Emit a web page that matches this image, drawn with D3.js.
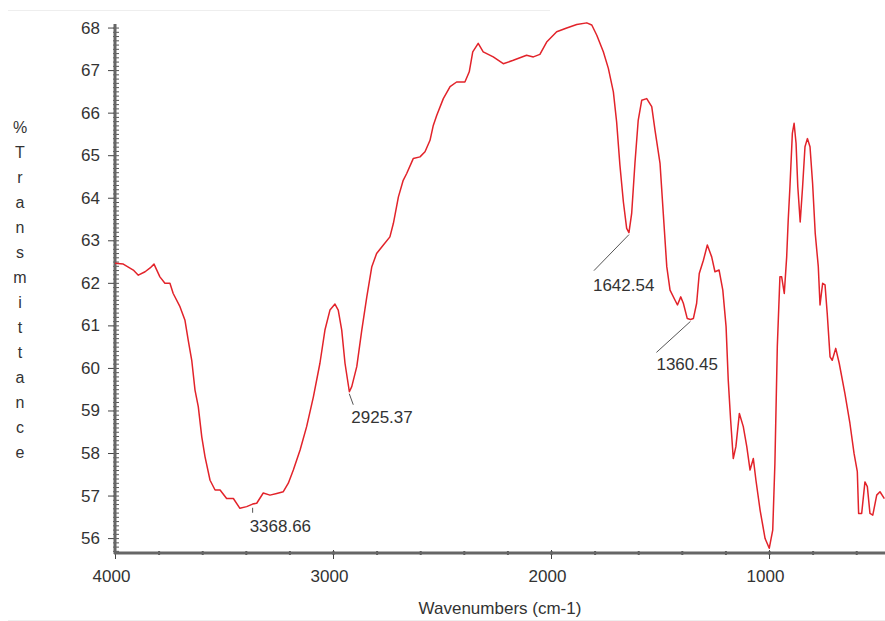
<!DOCTYPE html>
<html>
<head>
<meta charset="utf-8">
<style>
    body { margin: 0; background: #fff; }
    svg { display: block; font-family: "Liberation Sans", Arial, sans-serif; }
    .tick text { font-size: 17px; fill: #333; }
    .ylab { font-size: 16px; fill: #333; }
    .peak { font-size: 17px; fill: #333; }
</style>
</head>
<body>
<svg width="885" height="621"></svg>
<script src="https://d3js.org/d3.v7.min.js"></script>
<script>
    // spectrum: wavenumber (cm-1) and %T
    let wavenumbers = [4000, 3962, 3916, 3893, 3862, 3839, 3821, 3794, 3771, 3748, 3733, 3702, 3679, 3664, 3648, 3633, 3618, 3602, 3587, 3564, 3541, 3518, 3488, 3457, 3427, 3396, 3369, 3350, 3320, 3289, 3258, 3228, 3205, 3182, 3151, 3121, 3090, 3060, 3037, 3014, 2991, 2976, 2960, 2945, 2925, 2914, 2891, 2868, 2845, 2822, 2800, 2769, 2739, 2723, 2700, 2678, 2662, 2632, 2601, 2578, 2555, 2540, 2524, 2494, 2463, 2433, 2395, 2375, 2359, 2334, 2311, 2265, 2219, 2173, 2112, 2081, 2051, 2020, 1974, 1928, 1882, 1836, 1813, 1790, 1760, 1737, 1714, 1699, 1684, 1668, 1653, 1642.5, 1630, 1615, 1600, 1584, 1561, 1538, 1523, 1500, 1485, 1469, 1454, 1431, 1420, 1405, 1393, 1375, 1360, 1347, 1332, 1320, 1301, 1283, 1263, 1248, 1229, 1212, 1197, 1187, 1176, 1164, 1152, 1136, 1118, 1102, 1087, 1072, 1060, 1041, 1018, 999, 983, 973, 962, 950, 942, 930, 919, 912, 904, 893, 885, 876, 868, 857, 846, 835, 824, 812, 800, 788, 774, 766, 754, 743, 733, 720, 710, 694, 678, 652, 629, 610, 595, 589, 575, 560, 549, 537, 524, 506, 491, 471]
    let transmittance = [62.46, 62.44, 62.30, 62.18, 62.26, 62.35, 62.44, 62.14, 61.99, 61.99, 61.75, 61.44, 61.12, 60.65, 60.18, 59.48, 59.09, 58.38, 57.91, 57.36, 57.13, 57.13, 56.93, 56.93, 56.70, 56.74, 56.80, 56.82, 57.06, 57.01, 57.05, 57.09, 57.29, 57.60, 58.07, 58.62, 59.32, 60.11, 60.89, 61.36, 61.50, 61.36, 60.89, 60.11, 59.44, 59.56, 60.03, 60.89, 61.67, 62.38, 62.69, 62.89, 63.08, 63.40, 64.02, 64.41, 64.57, 64.92, 64.96, 65.08, 65.35, 65.70, 65.94, 66.33, 66.61, 66.72, 66.72, 66.96, 67.43, 67.63, 67.43, 67.31, 67.15, 67.23, 67.35, 67.31, 67.37, 67.66, 67.90, 67.99, 68.07, 68.11, 68.06, 67.82, 67.43, 67.04, 66.49, 65.78, 64.77, 63.90, 63.28, 63.18, 63.63, 64.81, 65.82, 66.29, 66.33, 66.14, 65.59, 64.81, 63.63, 62.38, 61.83, 61.59, 61.48, 61.67, 61.52, 61.16, 61.14, 61.16, 61.52, 62.22, 62.53, 62.89, 62.61, 62.26, 62.30, 61.83, 60.97, 59.71, 58.77, 57.87, 58.15, 58.93, 58.62, 58.15, 57.60, 57.87, 57.36, 56.66, 55.99, 55.76, 56.19, 57.76, 60.50, 62.14, 62.14, 61.75, 62.61, 63.47, 64.26, 65.51, 65.75, 65.28, 64.26, 63.43, 64.26, 65.20, 65.39, 65.20, 64.33, 63.16, 62.38, 61.48, 61.99, 61.95, 61.28, 60.26, 60.18, 60.46, 60.11, 59.40, 58.70, 57.99, 57.56, 56.58, 56.58, 57.32, 57.21, 56.58, 56.54, 57.01, 57.09, 56.93]

    let xTicks = [4000, 3000, 2000, 1000]
    let yTicks = [56, 57, 58, 59, 60, 61, 62, 63, 64, 65, 66, 67, 68]

    // peak labels
    let peakNames = ["3368.66", "2925.37", "1642.54", "1360.45"]
    let peakWn = [3368.66, 2925.37, 1642.54, 1360.45]
    let peakT = [56.76, 59.44, 63.18, 61.14]

    let yTitle = "%Transmittance"
    let xTitle = "Wavenumbers (cm-1)"

    let svg = d3.select("svg")

    let x = d3.scaleLinear()
        .domain([4000, 468])
        .range([115, 885])

    let y = d3.scaleLinear()
        .domain([55.65, 68.06])
        .range([553, 25])

    // faint frame lines of the original screenshot
    svg.append("line").attr("x1", 8).attr("x2", 550).attr("y1", 10.5).attr("y2", 10.5)
        .attr("stroke", "#eee")
    svg.append("line").attr("x1", 8).attr("x2", 885).attr("y1", 620.5).attr("y2", 620.5)
        .attr("stroke", "#eee")

    // minor ticks
    let yMinor = d3.axisLeft(y)
        .tickValues(d3.range(55.7, 68.05, 0.1))
        .tickSize(3)
        .tickFormat("")
    svg.append("g")
        .attr("transform", "translate(116,0)")
        .call(yMinor)
        .call(g => g.select(".domain").remove())
        .call(g => g.selectAll("line").attr("stroke", "#555").attr("x2", 3).attr("x1", -3))

    let xMinor = d3.axisBottom(x)
        .tickValues(d3.range(3800, 468, -200))
        .tickFormat("")
    svg.append("g")
        .attr("transform", "translate(0,553)")
        .call(xMinor)
        .call(g => g.select(".domain").remove())
        .call(g => g.selectAll("line").attr("stroke", "#555").attr("y1", -2).attr("y2", 2).attr("stroke-width", 2))

    // main axes
    let yAxis = d3.axisLeft(y)
        .tickValues(yTicks)
        .tickSize(7)
        .tickPadding(8)
    svg.append("g")
        .attr("transform", "translate(115,0)")
        .call(yAxis)
        .call(g => g.select(".domain").remove())
        .call(g => g.selectAll("line").attr("stroke", "#444"))

    let xAxis = d3.axisBottom(x)
        .tickValues(xTicks)
        .tickFormat(d3.format("d"))
        .tickSize(6)
        .tickPadding(11)
    svg.append("g")
        .attr("transform", "translate(0,553)")
        .call(xAxis)
        .call(g => g.select(".domain").remove())
        .call(g => g.selectAll("line").attr("stroke", "#444").attr("y1", -3))
        .call(g => g.selectAll("text").attr("dx", -4))

    svg.append("line")
        .attr("x1", 115).attr("x2", 115).attr("y1", 24).attr("y2", 554)
        .attr("stroke", "#666").attr("stroke-width", 3)
    svg.append("line")
        .attr("x1", 114).attr("x2", 885).attr("y1", 553).attr("y2", 553)
        .attr("stroke", "#666").attr("stroke-width", 3)

    // spectrum
    let spectrum = wavenumbers.map((w, i) => [w, transmittance[i]])
    svg.append("path")
        .datum(spectrum)
        .attr("fill", "none")
        .attr("stroke", "#e2232a")
        .attr("stroke-width", 1.5)
        .attr("stroke-linejoin", "round")
        .attr("d", d3.line().x(d => x(d[0])).y(d => y(d[1])))

    // peak annotations (leader line offset, text offset)
    let leaders = [[0, 7, -3, 20], [4, 13, 2, 25], [-35, 38, -36, 52], [-34, 33, -34, 45]]
    peakNames.forEach(function (name, i) {
        let px = x(peakWn[i]), py = y(peakT[i])
        let o = leaders[i]
        svg.append("line")
            .attr("x1", px).attr("y1", py + 2)
            .attr("x2", px + o[0]).attr("y2", py + o[1])
            .attr("stroke", "#555").attr("stroke-width", 1)
        svg.append("text")
            .attr("class", "peak")
            .attr("x", px + o[2])
            .attr("y", py + o[3])
            .attr("dy", "0.35em")
            .text(name)
    })

    // titles
    svg.append("g")
        .selectAll("text")
        .data(yTitle.split(""))
        .join("text")
        .attr("class", "ylab")
        .attr("x", 20)
        .attr("y", (d, i) => 127 + i * 25)
        .attr("dy", "0.35em")
        .attr("text-anchor", "middle")
        .text(d => d)

    svg.append("text")
        .attr("x", 500)
        .attr("y", 608)
        .attr("dy", "0.35em")
        .attr("text-anchor", "middle")
        .style("font-size", "17px")
        .style("fill", "#333")
        .text(xTitle)
</script>
</body>
</html>
